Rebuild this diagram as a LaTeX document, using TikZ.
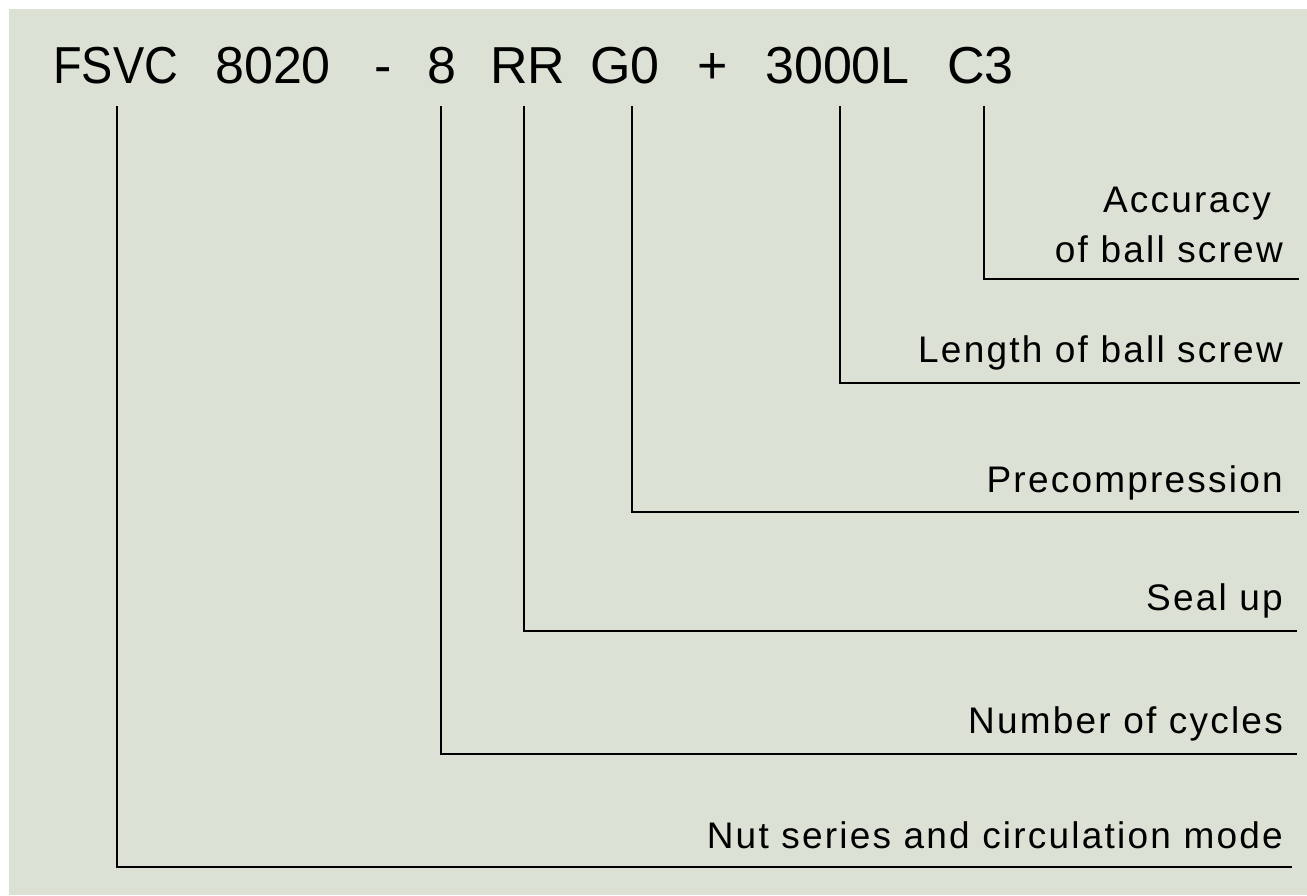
\documentclass[tikz,border=0pt]{standalone}
\usepackage{fontspec}
\setmainfont{Liberation Sans}
\newfontfamily\titlefont{Liberation Sans}
\newfontfamily\fsvcfont[FakeStretch=0.9]{Liberation Sans}
\newfontfamily\labfont[LetterSpace=6]{Liberation Sans}
\definecolor{bgcol}{RGB}{219,226,213}
\tikzset{
  tok/.style={inner sep=0pt, anchor=base west, font=\titlefont\fontsize{52}{60}\selectfont},
  lab/.style={inner sep=0pt, anchor=base east, font=\labfont\fontsize{37}{44}\selectfont},
  conn/.style={line width=2.7pt, draw=black}
}
\begin{document}
\begin{tikzpicture}[x=1pt,y={(0pt,-1pt)}]
\useasboundingbox (0,0) rectangle (1307,895);
\fill[bgcol] (9,9) rectangle (1307,895);
% title tokens
\node[tok, font=\fsvcfont\fontsize{52}{60}\selectfont] (t1) at (53,83) {FSVC};
\node[tok] (t2) at (215,83) {8020};
\node[tok] (t3) at (374,83) {-};
\node[tok] (t4) at (427,83) {8};
\node[tok] (t5) at (490,83) {RR};
\node[tok] (t6) at (590,83) {G0};
\node[tok] (t7) at (697,83) {+};
\node[tok] (t8) at (765,83) {3000L};
\node[tok] (t9) at (947,83) {C3};
% labels
\node[lab] (l1a) at (1271,212) {Accuracy};
\node[lab] (l1) at (1283,262) {of ball screw};
\node[lab] (l2) at (1283,362) {Length of ball screw};
\node[lab] (l3) at (1283,492) {Precompression};
\node[lab] (l4) at (1283,610) {Seal up};
\node[lab] (l5) at (1283,733) {Number of cycles};
\node[lab] (l6) at (1283,848) {Nut series and circulation mode};
% connector points
\coordinate (a1) at (117,106); \coordinate (b1) at (1292,867);
\coordinate (a2) at (441,106); \coordinate (b2) at (1297,754);
\coordinate (a3) at (524,106); \coordinate (b3) at (1297,631);
\coordinate (a4) at (632,106); \coordinate (b4) at (1299,512);
\coordinate (a5) at (840,106); \coordinate (b5) at (1300,383);
\coordinate (a6) at (984,106); \coordinate (b6) at (1299,279);
\draw[conn] (a1) |- (b1);
\draw[conn] (a2) |- (b2);
\draw[conn] (a3) |- (b3);
\draw[conn] (a4) |- (b4);
\draw[conn] (a5) |- (b5);
\draw[conn] (a6) |- (b6);
\end{tikzpicture}
\end{document}
